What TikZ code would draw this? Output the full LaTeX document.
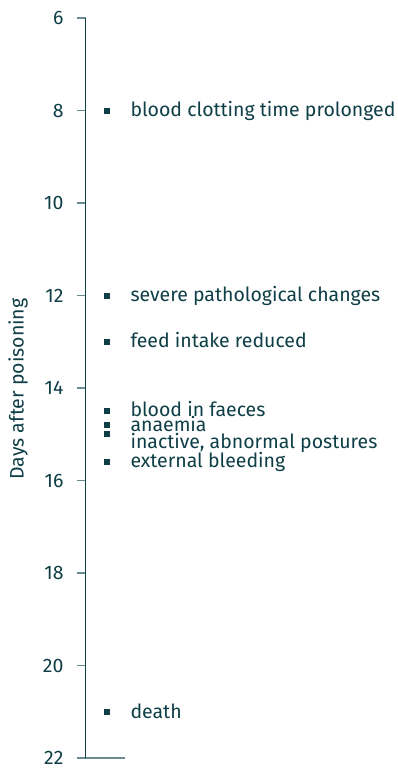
\documentclass[tikz,border=0pt]{standalone}
\usepackage{fontspec}
\setmainfont{Fira Sans}
\definecolor{axisteal}{HTML}{0E3E46}
\definecolor{tickgrey}{HTML}{6B8C92}
\tikzset{
  daytick/.style={draw=tickgrey,line width=1.2pt},
  daylabel/.style={inner sep=0pt,outer sep=0pt,anchor=east,text=axisteal,font=\fontsize{19.5}{23}\selectfont},
  evmark/.style={fill=axisteal,inner sep=0pt,minimum size=6pt},
  evlabel/.style={inner sep=0pt,outer sep=0pt,anchor=base west,text=axisteal,font=\fontsize{19.5}{23}\selectfont},
}
\begin{document}
\begin{tikzpicture}[x=1pt,y=-1pt]
\path[use as bounding box] (0,0) rectangle (397,769);
% axis
\coordinate (axtop) at (85.5,18);
\coordinate (axbot) at (85.5,758);
\foreach \d in {6,8,...,22}{
  \draw[daytick] (77,{18+(\d-6)*46.25}) -- (85.5,{18+(\d-6)*46.25});
  \node[daylabel] (tick\d) at (63.5,{18+(\d-6)*46.25}) {\d};
}
\draw[daytick] (axbot) -- (125,758);
\draw[draw=axisteal,line width=1.2pt] (axtop) -- (axbot);
\node[rotate=90,text=axisteal,font=\fontsize{19.5}{23}\selectfont] (ylab) at (18,389) {Days after poisoning};
% events
\foreach \d/\ly/\n/\txt in {8/116.7/clot/{blood clotting time prolonged},
    12/301.5/patho/{severe pathological changes},
    13/347.5/feed/{feed intake reduced},
    14.5/416.7/faeces/{blood in faeces},
    14.8/431.7/anaemia/{anaemia},
    15/448/inactive/{inactive, abnormal postures},
    15.6/467.5/bleed/{external bleeding},
    21/718/death/{death}}{
  \node[evmark] (m\n) at (107,{18+(\d-6)*46.25}) {};
  \node[evlabel] (l\n) at (130.5,\ly) {\txt};
}
\end{tikzpicture}
\end{document}
